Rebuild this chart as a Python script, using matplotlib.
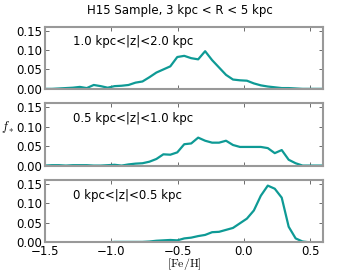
import matplotlib
matplotlib.use("Agg")
import matplotlib.pyplot as plt

feh = [-1.5, -1.4475, -1.395, -1.3425, -1.29, -1.2375, -1.185, -1.1325, -1.08, -1.0275,
       -0.975, -0.9225, -0.87, -0.8175, -0.765, -0.7125, -0.66, -0.6075, -0.555, -0.5025,
       -0.45, -0.3975, -0.345, -0.2925, -0.24, -0.1875, -0.135, -0.0825, -0.03, 0.0225,
       0.075, 0.1275, 0.18, 0.2325, 0.285, 0.3375, 0.39, 0.4425, 0.495, 0.5475, 0.6]

f_high = [0.0, 0.0, 0.001, 0.002, 0.003, 0.005, 0.002, 0.010, 0.007, 0.003,
          0.007, 0.008, 0.010, 0.016, 0.019, 0.030, 0.042, 0.050, 0.058, 0.082,
          0.085, 0.079, 0.076, 0.097, 0.074, 0.055, 0.036, 0.024, 0.022, 0.021,
          0.014, 0.009, 0.006, 0.004, 0.002, 0.002, 0.001, 0.0, 0.0, 0.0, 0.0]

f_mid = [0.0, 0.001, 0.001, 0.0, 0.001, 0.001, 0.001, 0.0, 0.0, 0.001,
         0.002, 0.0, 0.003, 0.005, 0.006, 0.010, 0.017, 0.029, 0.028, 0.034,
         0.055, 0.057, 0.072, 0.064, 0.059, 0.059, 0.064, 0.053, 0.048, 0.048,
         0.048, 0.048, 0.045, 0.032, 0.040, 0.015, 0.006, 0.0, 0.0, 0.0, 0.0]

f_low = [0.0, 0.0, 0.0, 0.0, 0.0, 0.0, 0.0, 0.0, 0.0, 0.0,
         0.001, 0.001, 0.001, 0.001, 0.001, 0.002, 0.004, 0.005, 0.006, 0.005,
         0.010, 0.012, 0.016, 0.019, 0.026, 0.027, 0.032, 0.037, 0.049, 0.061,
         0.082, 0.120, 0.146, 0.138, 0.115, 0.040, 0.010, 0.002, 0.0, 0.0, 0.0]

panel_labels = ["1.0 kpc<|z|<2.0 kpc", "0.5 kpc<|z|<1.0 kpc", "0 kpc<|z|<0.5 kpc"]
series = [f_high, f_mid, f_low]
yticks = [0.00, 0.05, 0.10, 0.15]
xticks = [-1.5, -1.0, -0.5, 0.0, 0.5]

plt.rcParams['mathtext.fontset'] = 'cm'
fig = plt.figure(figsize=(3.6, 2.7), dpi=100)
fig.subplots_adjust(left=0.125, right=0.8986, bottom=0.1026, top=0.901, hspace=0.235)
axes = fig.subplots(3, 1, sharex=True)

for ax, ys, lab in zip(axes, series, panel_labels):
    ax.plot(feh, ys, color='#0e9a95', lw=1.6)
    ax.set_xlim(-1.5, 0.6)
    ax.set_ylim(0, 0.16)
    ax.set_yticks(yticks)
    ax.set_yticklabels([f"{v:.2f}" for v in yticks])
    ax.set_xticks(xticks)
    for s in ax.spines.values():
        s.set_color('#999999')
        s.set_linewidth(1.5)
    ax.tick_params(direction='in', length=3, width=0.6, color='#555555',
                   top=True, right=True, labelsize=8.5, pad=2)
    ax.text(0.1, 0.7, lab, transform=ax.transAxes, fontsize=8.5)

axes[-1].set_xticklabels(["\u22121.5", "\u22121.0", "\u22120.5", "0.0", "0.5"])
axes[-1].set_xlabel(r"$\mathrm{[Fe/H]}$", fontsize=8.5, labelpad=-1.5)
axes[1].set_ylabel(r"$f_*$", fontsize=9, rotation=0, labelpad=6)
fig.suptitle("H15 Sample, 3 kpc < R < 5 kpc", fontsize=8.5, y=0.985)

fig.savefig("out.png", dpi=100)
